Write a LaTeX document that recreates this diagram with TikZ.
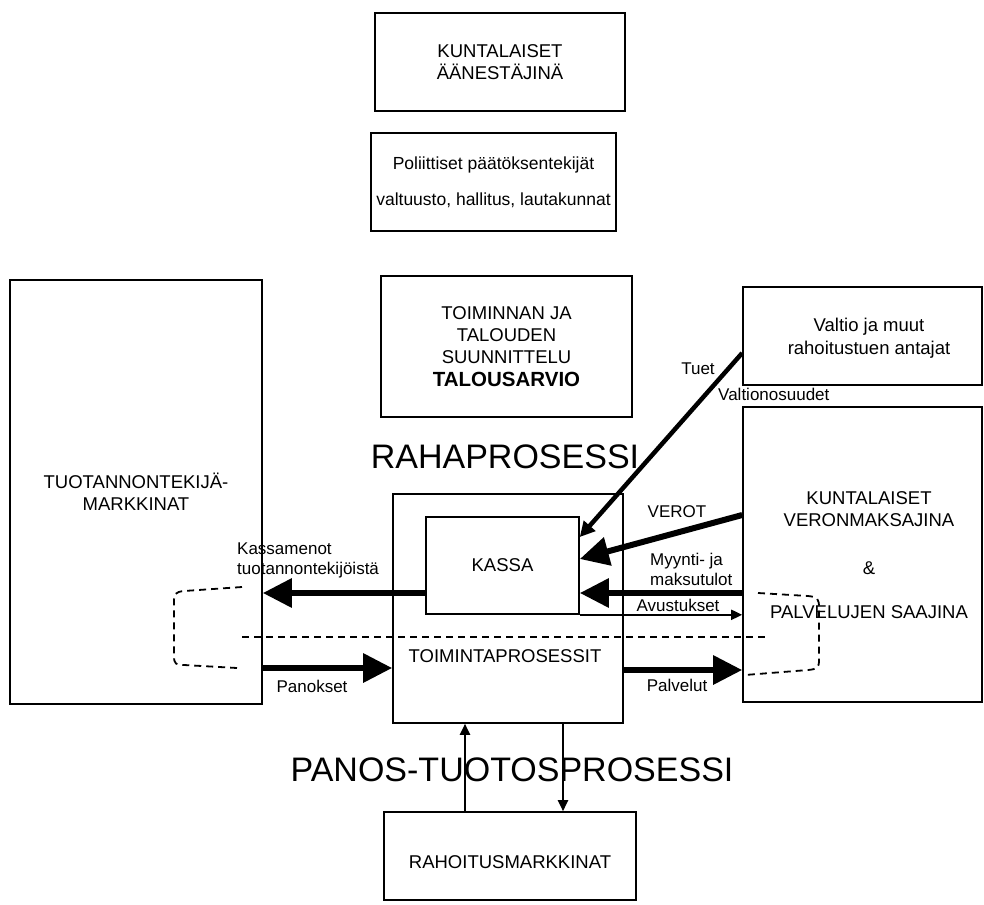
\documentclass[tikz,border=0pt]{standalone}
\usepackage{fontspec}
\setmainfont{Liberation Sans}
\usetikzlibrary{arrows.meta}

\begin{document}
\begin{tikzpicture}[x=1pt,y=-1pt,
  box/.style={draw, line width=1.6pt, inner sep=0pt, align=center,
              font=\fontsize{18.5}{22}\selectfont},
  txt/.style={inner sep=0pt, align=center, font=\fontsize{18.5}{22.5}\selectfont},
  lbl/.style={inner sep=0pt, align=left, font=\fontsize{17}{20}\selectfont},
  big/.style={inner sep=0pt, font=\fontsize{34}{40}\selectfont},
  flow/.style={line width=6pt, -{Triangle[length=29pt,width=28pt]}},
  slim/.style={line width=4.5pt, -{Triangle[length=15pt,width=15pt]}},
  thin/.style={line width=2pt, -{Triangle[length=11pt,width=10pt]}},
  bracket/.style={line width=1.8pt, dash pattern=on 7pt off 5pt}
]
\useasboundingbox (0,0) rectangle (984,904);

% --- boxes -------------------------------------------------------------
\node[box, minimum width=250pt, minimum height=98pt] (voters) at (500,62)
  {KUNTALAISET\\ÄÄNESTÄJINÄ};
\node[box, minimum width=245pt, minimum height=98pt,
      font=\fontsize{17.5}{22}\selectfont] (poli) at (493.5,182)
  {Poliittiset päätöksentekijät\\[14pt]valtuusto, hallitus, lautakunnat};
\node[box, minimum width=251pt, minimum height=141pt] (plan) at (506.5,346.5)
  {\fontsize{18.5}{18.5}\selectfont TOIMINNAN JA\\TALOUDEN\\SUUNNITTELU\\[1pt]
   \fontsize{20.5}{22}\selectfont\bfseries TALOUSARVIO};
\node[box, minimum width=252pt, minimum height=424pt] (prod) at (136,492)
  {TUOTANNONTEKIJÄ-\\MARKKINAT};
\node[box, minimum width=239pt, minimum height=98pt] (state) at (862.5,336) {};
\node[txt] (statetxt) at (869,338) {Valtio ja muut\\rahoitustuen antajat};
\node[box, minimum width=239pt, minimum height=295pt] (payers) at (862.5,554.5) {};
\node[txt] (payerstxt) at (869,555)
  {KUNTALAISET\\VERONMAKSAJINA\\[25pt]\&\\[22pt]PALVELUJEN SAAJINA};
\node[box, minimum width=230pt, minimum height=229pt] (proc) at (508,608.5) {};
\node[txt] (proctxt) at (505,656) {TOIMINTAPROSESSIT};
\node[box, minimum width=153pt, minimum height=97pt] (kassa) at (502.5,565.5) {KASSA};
\node[box, minimum width=252pt, minimum height=88pt] (fin) at (510,856) {};
\node[txt] (fintxt) at (510,862) {RAHOITUSMARKKINAT};

% --- process titles ----------------------------------------------------
\node[big] (money) at (505,457) {RAHAPROSESSI};
\node[big] (io) at (512,770) {PANOS-TUOTOSPROSESSI};

% --- boundary between money and input-output flows -----------------------
\coordinate (dl) at (242,637);
\coordinate (dr) at (765,637);
\draw[bracket] (dl) -- (dr);
\draw[bracket] (242,587) -- (184,591) .. controls (175,592) and (174,594) .. (174,602)
  -- (174,656) .. controls (174,664) and (176,665) .. (184,665) -- (237,668);
\draw[bracket] (758,593) -- (808,596) .. controls (818,597) and (819,599) .. (819,608)
  -- (819,660) .. controls (819,668) and (817,669) .. (808,670) -- (745,675);

% --- money flows -------------------------------------------------------
\coordinate (ya) at (0,593);
\coordinate (yb) at (0,668);
\coordinate (yc) at (0,670);
\draw[slim] ([yshift=-17pt]state.west) -- ([yshift=28.5pt]kassa.east);
\draw[flow] ([yshift=39.5pt]payers.west) -- ([yshift=6.5pt]kassa.east);
\draw[flow] (payers.west |- ya) -- (kassa.east |- ya);
\draw[thin] (kassa.south east) -- (kassa.south east -| payers.west);
\draw[flow] (kassa.west |- ya) -- (prod.east |- ya);

% --- input-output flows ------------------------------------------------
\draw[flow] (prod.east |- yb) -- (proc.west |- yb);
\draw[flow] (proc.east |- yc) -- (payers.west |- yc);
\coordinate (ux) at (465,0);
\coordinate (dx) at (563,0);
\draw[thin] (fin.north -| ux) -- (proc.south -| ux);
\draw[thin] (proc.south -| dx) -- (fin.north -| dx);

% --- flow labels -------------------------------------------------------
\node[lbl, anchor=west] (lkm) at (237,560) {Kassamenot\\tuotannontekijöistä};
\node[lbl] (lpan) at (312,686) {Panokset};
\node[lbl] (ltuet) at (698,369) {Tuet};
\node[lbl, anchor=west] (lvos) at (718,394) {Valtionosuudet};
\node[lbl] (lvero) at (677,512) {VEROT};
\node[lbl, anchor=west] (lmyy) at (650,569) {Myynti- ja\\maksutulot};
\node[lbl] (lavu) at (678,605) {Avustukset};
\node[lbl] (lpal) at (677,685) {Palvelut};
\end{tikzpicture}
\end{document}
